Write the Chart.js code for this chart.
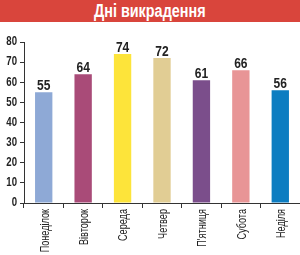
<!DOCTYPE html>
<html>
<head>
<meta charset="utf-8">
<script src="https://cdn.jsdelivr.net/npm/chart.js@4/dist/chart.umd.min.js"></script>
<style>
  body { margin: 0; background: #fff; width: 300px; height: 255px; overflow: hidden; }
  #title {
    height: 22px; background: #d9453c; color: #fff;
    font: bold 18px "Liberation Sans", Arial, sans-serif;
    text-align: center; line-height: 22px;
  }
  #title span { display: inline-block; transform: scaleX(0.8); }
  #wrap { width: 300px; height: 233px; }
</style>
</head>
<body>
<div id="title"><span>Дні викрадення</span></div>
<div id="wrap"><canvas id="c" width="300" height="233"></canvas></div>
<script>
/* ===== DATA ===== */
const days = ["Понеділок", "Вівторок", "Середа", "Четвер", "П'ятниця", "Субота", "Неділя"];
const values = [55, 64, 74, 72, 61, 66, 56];
const colors = ["#8ea9d6", "#a94b78", "#fde43a", "#e1cd94", "#7b4e8b", "#e89596", "#0d7dc1"];
const yTicks = [0, 10, 20, 30, 40, 50, 60, 70, 80];

const FONT = "'Liberation Sans', Arial, sans-serif";

/* draw text narrowed along its own direction (the original uses a condensed face) */
function narrowText(ctx, txt, x, y, angle, squeeze) {
  ctx.save();
  ctx.translate(x, y);
  ctx.rotate(angle);
  ctx.scale(squeeze, 1);
  ctx.fillText(txt, 0, 0);
  ctx.restore();
}

/* all the chart texts: axis labels and values above bars */
const texts = {
  id: "texts",
  afterDraw(chart) {
    const ctx = chart.ctx;
    const xs = chart.scales.x, ys = chart.scales.y;
    ctx.save();
    ctx.fillStyle = "#222";

    // y tick labels
    ctx.font = "bold 12px " + FONT;
    ctx.textAlign = "right";
    ctx.textBaseline = "middle";
    yTicks.forEach(v => narrowText(ctx, String(v), ys.right - 7, ys.getPixelForValue(v), 0, 0.8));

    // x category labels, reading upward
    ctx.font = "12px " + FONT;
    ctx.textAlign = "right";
    ctx.textBaseline = "middle";
    days.forEach((d, i) => narrowText(ctx, d, xs.getPixelForTick(i) + 1.5, xs.top + 6, -Math.PI / 2, 0.76));

    // values above bars
    ctx.font = "bold 15px " + FONT;
    ctx.textAlign = "center";
    ctx.textBaseline = "alphabetic";
    chart.getDatasetMeta(0).data.forEach((bar, i) => narrowText(ctx, String(values[i]), bar.x, bar.y - 2, 0, 0.8));

    ctx.restore();
  }
};

new Chart(document.getElementById("c"), {
  type: "bar",
  data: {
    labels: days,
    datasets: [{
      data: values,
      backgroundColor: colors,
      borderWidth: 0,
      barPercentage: 0.44,
      categoryPercentage: 1
    }]
  },
  options: {
    responsive: false,
    animation: false,
    layout: { padding: { top: 20, right: 0, left: 0, bottom: 0 } },
    plugins: { legend: { display: false }, tooltip: { enabled: false } },
    scales: {
      x: {
        afterFit: s => { s.height = 52; },
        grid: { drawOnChartArea: false, tickLength: 5, color: "#333", offset: true },
        border: { color: "#333", width: 1 },
        ticks: { display: false }
      },
      y: {
        min: 0, max: 80,
        afterFit: s => { s.width = 24; },
        afterBuildTicks: s => { s.ticks = yTicks.map(v => ({ value: v })); },
        grid: { drawOnChartArea: false, tickLength: 4, color: "#333" },
        border: { color: "#333", width: 1 },
        ticks: { display: false }
      }
    }
  },
  plugins: [texts]
});
</script>
</body>
</html>
